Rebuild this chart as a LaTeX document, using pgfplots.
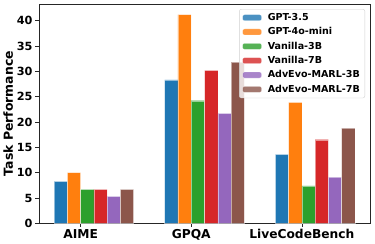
\documentclass[border=0pt]{standalone}
\usepackage{fontspec}
\setmainfont{DejaVu Sans}
\usepackage{pgfplots}
\pgfplotsset{compat=1.18}
\definecolor{c1}{HTML}{1F77B4}
\definecolor{c2}{HTML}{FF7F0E}
\definecolor{c3}{HTML}{2CA02C}
\definecolor{c4}{HTML}{D62728}
\definecolor{c5}{HTML}{9467BD}
\definecolor{c6}{HTML}{8C564B}
\begin{document}
\begin{tikzpicture}
\begin{axis}[
  width=331bp, height=219.3bp, scale only axis,
  xmin=-0.376, xmax=2.616, ymin=0, ymax=43.3,
  xtick={0,1,2}, xticklabels={AIME,GPQA,LiveCodeBench},
  ytick={0,5,...,40},
  tick align=outside, xtick pos=left, ytick pos=left,
  major tick length=3.5bp,
  axis line style={line width=0.6bp, black!85},
  every tick/.style={black!85, line width=0.6bp},
  /pgf/number format/assume math mode=true,
  xticklabel style={font=\bfseries\fontsize{12.3}{13}\selectfont, yshift=1bp},
  yticklabel style={font=\bfseries\fontsize{11.3}{13}\selectfont, xshift=0.5bp},
  ylabel={Task Performance},
  ylabel style={font=\bfseries\fontsize{12.5}{14}\selectfont, yshift=-3bp},
  ybar, bar width=0.12,
  every axis plot/.append style={draw=white, draw opacity=0.5, line width=0.4bp},
  area legend,
  legend image code/.code={\fill[#1] (0bp,-3bp) rectangle (19bp,3bp); \path (23bp,0bp);},
  legend cell align=left,
  legend style={at={(0.985,0.977)}, anchor=north east,
    font=\bfseries\fontsize{9.6}{11.5}\selectfont,
    draw=black!18, rounded corners=2bp, fill=white, fill opacity=0.8, text opacity=1,
    row sep=1.6bp, inner xsep=3bp, inner ysep=2.2bp},
]
\addplot[fill=c1, bar shift=-0.18] coordinates {(0,8.3) (1,28.3) (2,13.6)};
\addplot[fill=c2, bar shift=-0.06] coordinates {(0,10.0) (1,41.2) (2,23.9)};
\addplot[fill=c3, bar shift=0.06] coordinates {(0,6.7) (1,24.2) (2,7.4)};
\addplot[fill=c4, bar shift=0.18] coordinates {(0,6.7) (1,30.2) (2,16.5)};
\addplot[fill=c5, bar shift=0.30] coordinates {(0,5.3) (1,21.7) (2,9.1)};
\addplot[fill=c6, bar shift=0.42] coordinates {(0,6.7) (1,31.8) (2,18.8)};
\legend{GPT-3.5,GPT-4o-mini,Vanilla-3B,Vanilla-7B,AdvEvo-MARL-3B,AdvEvo-MARL-7B}
\end{axis}
\path (current axis.south west) ++(-39bp,-20.7bp) coordinate (bbA);
\path (current axis.north east) ++(5bp,4bp) coordinate (bbB);
\pgfresetboundingbox
\path[use as bounding box] (bbA) rectangle (bbB);
\end{tikzpicture}
\end{document}
